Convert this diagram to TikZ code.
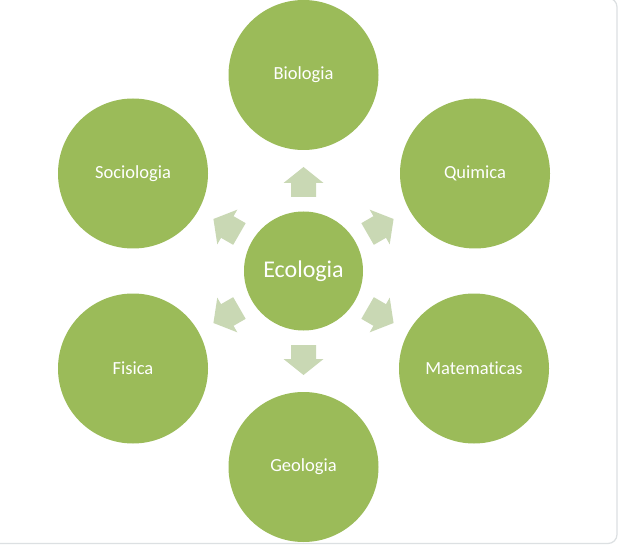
\documentclass[tikz,border=0pt]{standalone}
\usepackage{fontspec}
\setmainfont{Carlito}[Ligatures=NoCommon]
\definecolor{ecogreen}{RGB}{155,187,89}
\definecolor{arrowgreen}{RGB}{201,216,180}
\definecolor{framegray}{RGB}{220,224,226}
\tikzset{
  outer/.style={circle, fill=ecogreen, minimum size=150pt, inner sep=0pt, text=white, font=\fontsize{18.5}{22}\selectfont},
  inner/.style={circle, fill=ecogreen, minimum size=119pt, inner sep=0pt, text=white, font=\fontsize{24}{28}\selectfont},
  flowarrow/.style={fill=arrowgreen, draw=none}
}
\newcommand{\ecoarrow}[1]{%
  \begin{scope}[shift={(303.5,-271)}, rotate=#1]
    \fill[flowarrow] (74,-12.5) -- (88,-12.5) -- (88,-20) -- (104,0) -- (88,20) -- (88,12.5) -- (74,12.5) -- cycle;
  \end{scope}}
\begin{document}
\begin{tikzpicture}[x=1pt,y=1pt]
\useasboundingbox (0,0) rectangle (618,-545);
\clip (0,0) rectangle (618,-545);
\fill[white] (0,0) rectangle (618,-545);
\draw[framegray, line width=1.2pt, rounded corners=9pt] (-20,2) rectangle (617,-543.5);
\node[inner] (eco) at (303.5,-271) {Ecologia};
\node[outer] (bio) at (303.5,-75) {Biologia};
\node[outer] (qui) at (475,-173.5) {Quimica};
\node[outer] (mat) at (474,-368.5) {Matematicas};
\node[outer] (geo) at (303.5,-467) {Geologia};
\node[outer] (fis) at (133,-368.5) {Fisica};
\node[outer] (soc) at (133,-173.5) {Sociologia};
\ecoarrow{90}
\ecoarrow{30}
\ecoarrow{-30}
\ecoarrow{-90}
\ecoarrow{-150}
\ecoarrow{150}
\end{tikzpicture}
\end{document}
